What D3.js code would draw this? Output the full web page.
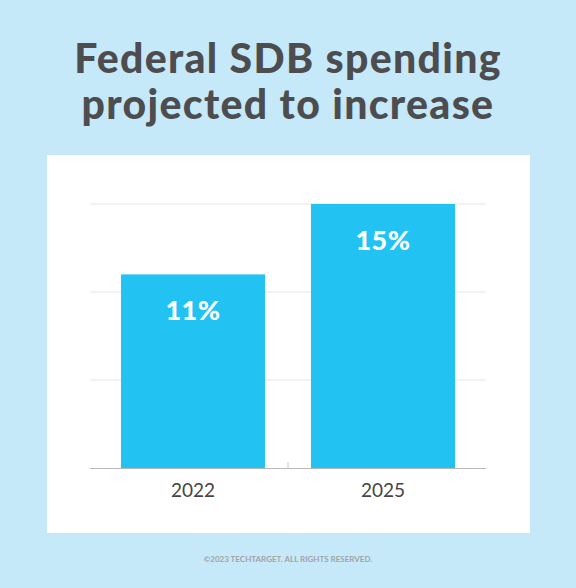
<!DOCTYPE html>
<html>
<head>
<meta charset="utf-8">
<script src="https://cdn.jsdelivr.net/npm/d3@7"></script>
<style>
  body { margin: 0; background: #c5e9f9; }
  svg { display: block; }
</style>
</head>
<body>
<script>
const years = ["2022", "2025"];
const shares = [11, 15];
const gridTicks = [5, 10, 15];
const titleLines = ["Federal SDB spending", "projected to increase"];

const width = 576, height = 588;

const svg = d3.select("body").append("svg")
    .attr("width", width)
    .attr("height", height);

svg.append("rect")
    .attr("width", width)
    .attr("height", height)
    .attr("fill", "#c5e9f9");

// title
svg.append("g").selectAll("text")
    .data(titleLines)
    .join("text")
    .attr("x", width / 2)
    .attr("y", (d, i) => 73 + i * 46)
    .attr("text-anchor", "middle")
    .attr("font-family", "Lato")
    .attr("font-weight", 900)
    .attr("font-size", 41)
    .attr("letter-spacing", 1.3)
    .attr("fill", "#4d4d4f")
    .text(d => d);

// white panel
svg.append("rect")
    .attr("x", 47)
    .attr("y", 155)
    .attr("width", 483)
    .attr("height", 378)
    .attr("fill", "#ffffff");

const x = d3.scaleBand()
    .domain(years)
    .range([90, 486])
    .paddingInner(0.242)
    .paddingOuter(0.163);

const y = d3.scaleLinear()
    .domain([0, 15])
    .range([468, 204]);

// gridlines
svg.append("g").selectAll("line")
    .data(gridTicks)
    .join("line")
    .attr("x1", 90)
    .attr("x2", 486)
    .attr("y1", d => y(d))
    .attr("y2", d => y(d))
    .attr("stroke", "#e6e6e6")
    .attr("stroke-width", 1);

// bars
svg.append("g").selectAll("rect")
    .data(shares)
    .join("rect")
    .attr("x", (d, i) => x(years[i]))
    .attr("y", d => y(d))
    .attr("width", x.bandwidth())
    .attr("height", d => y(0) - y(d))
    .attr("fill", "#22c3f3");

// value labels
svg.append("g").selectAll("text")
    .data(shares)
    .join("text")
    .attr("x", (d, i) => x(years[i]) + x.bandwidth() / 2)
    .attr("y", d => y(d) + 46)
    .attr("text-anchor", "middle")
    .attr("font-family", "Lato")
    .attr("font-weight", 900)
    .attr("font-size", 27)
    .attr("letter-spacing", 0.5)
    .attr("fill", "#ffffff")
    .text(d => d + "%");

// x axis
const axis = svg.append("g")
    .attr("transform", `translate(0,${y(0)})`);

axis.append("line")
    .attr("x1", 90)
    .attr("x2", 486)
    .attr("y1", 0.5)
    .attr("y2", 0.5)
    .attr("stroke", "#b8b8b8");

axis.append("line")
    .attr("x1", (x("2022") + x.bandwidth() + x("2025")) / 2)
    .attr("x2", (x("2022") + x.bandwidth() + x("2025")) / 2)
    .attr("y1", -6)
    .attr("y2", 0)
    .attr("stroke", "#c8c8c8");

axis.selectAll("text")
    .data(years)
    .join("text")
    .attr("x", d => x(d) + x.bandwidth() / 2)
    .attr("y", 29)
    .attr("text-anchor", "middle")
    .attr("font-family", "Lato")
    .attr("font-size", 19)
    .attr("fill", "#444444")
    .text(d => d);

// footer
svg.append("text")
    .attr("x", width / 2)
    .attr("y", 562)
    .attr("text-anchor", "middle")
    .attr("font-family", "Lato")
    .attr("font-weight", 700)
    .attr("font-size", 8)
    .attr("fill", "#a3a3a3")
    .text("©2023 TECHTARGET. ALL RIGHTS RESERVED.");
</script>
</body>
</html>
